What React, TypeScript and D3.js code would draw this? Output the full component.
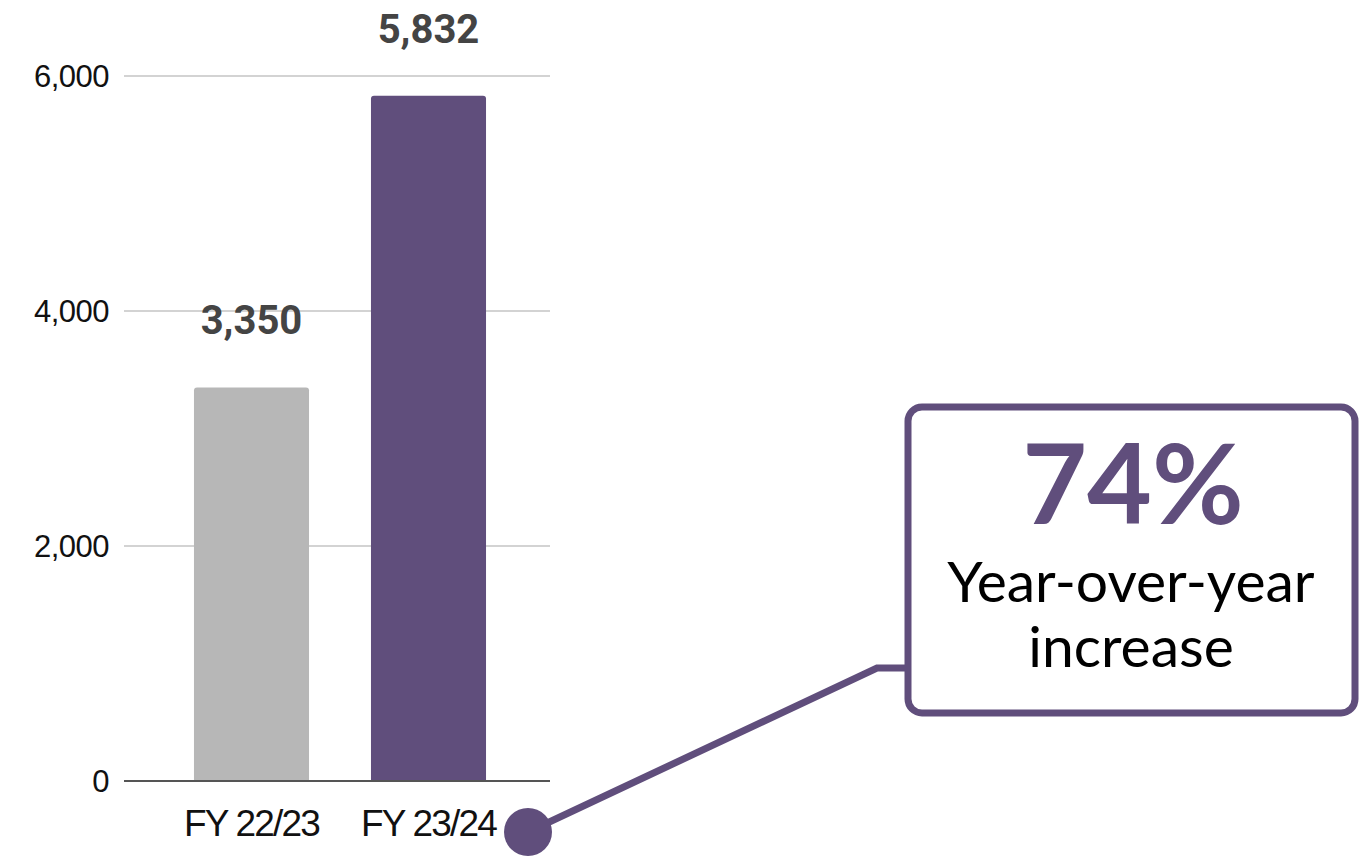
import React from "react";
import * as d3 from "d3";

const categories = ["FY 22/23", "FY 23/24"];
const values = [3350, 5832];
const valueLabels = ["3,350", "5,832"];
const yTicks = [0, 2000, 4000, 6000];
const barColors = ["#b7b7b7", "#604e7c"];
const calloutBig = "74%";
const calloutLines = ["Year-over-year", "increase"];

const W = 1364;
const H = 857;
const PURPLE = "#604e7c";

export default function App() {
  const plotLeft = 124;
  const plotRight = 550;
  const y = d3.scaleLinear().domain([0, 6000]).range([781, 76]);
  const x = d3
    .scaleBand<string>()
    .domain(categories)
    .range([163, 517])
    .paddingInner(0.35)
    .paddingOuter(0.175);

  const fmt = d3.format(",");

  const r = 3;
  const barPath = (x0: number, x1: number, top: number, bottom: number) =>
    `M${x0},${bottom}V${top + r}Q${x0},${top} ${x0 + r},${top}H${x1 - r}Q${x1},${top} ${x1},${top + r}V${bottom}Z`;

  const connector = d3.line()([
    [528, 832],
    [877, 668],
    [912, 668],
  ]);

  return (
    <svg width={W} height={H} style={{ position: "absolute", left: 0, top: 0 }}>
      <rect width={W} height={H} fill="#fff" />
      {yTicks.map((t) => (
        <g key={t}>
          {t !== 0 && (
            <line x1={plotLeft} x2={plotRight} y1={y(t)} y2={y(t)} stroke="#d3d3d3" strokeWidth={2} />
          )}
          <text
            x={109}
            y={y(t)}
            dy="0.36em"
            textAnchor="end"
            fontFamily="Liberation Sans, Arial, sans-serif"
            fontSize={31}
            letterSpacing={-0.5}
            fill="#111"
          >
            {fmt(t)}
          </text>
        </g>
      ))}
      {categories.map((c, i) => {
        const x0 = x(c)!;
        const x1 = x0 + x.bandwidth();
        return (
          <g key={c}>
            <path d={barPath(x0, x1, y(values[i]), y(0))} fill={barColors[i]} />
            <text
              x={(x0 + x1) / 2}
              y={y(values[i]) - 53}
              textAnchor="middle"
              fontFamily="Roboto, sans-serif"
              fontWeight={700}
              fontSize={40}
              fill="#444"
            >
              {valueLabels[i]}
            </text>
            <text
              x={(x0 + x1) / 2}
              y={836}
              textAnchor="middle"
              fontFamily="Liberation Sans, Arial, sans-serif"
              fontSize={37}
              letterSpacing={-1.8}
              fill="#111"
            >
              {c}
            </text>
          </g>
        );
      })}
      <line x1={plotLeft} x2={plotRight} y1={y(0)} y2={y(0)} stroke="#555" strokeWidth={2} />

      <path d={connector!} fill="none" stroke={PURPLE} strokeWidth={7} />
      <circle cx={528} cy={832} r={24} fill={PURPLE} />
      <rect x={908} y={407} width={447} height={306} rx={14} fill="#fff" stroke={PURPLE} strokeWidth={7} />
      <text
        x={1133}
        y={524}
        textAnchor="middle"
        fontFamily="Lato, sans-serif"
        fontWeight={700}
        fontSize={112}
        fill={PURPLE}
      >
        {calloutBig}
      </text>
      {calloutLines.map((l, i) => (
        <text
          key={l}
          x={1131}
          y={602 + i * 65}
          textAnchor="middle"
          fontFamily="Lato, sans-serif"
          fontSize={57}
          fill="#000"
        >
          {l}
        </text>
      ))}
    </svg>
  );
}
